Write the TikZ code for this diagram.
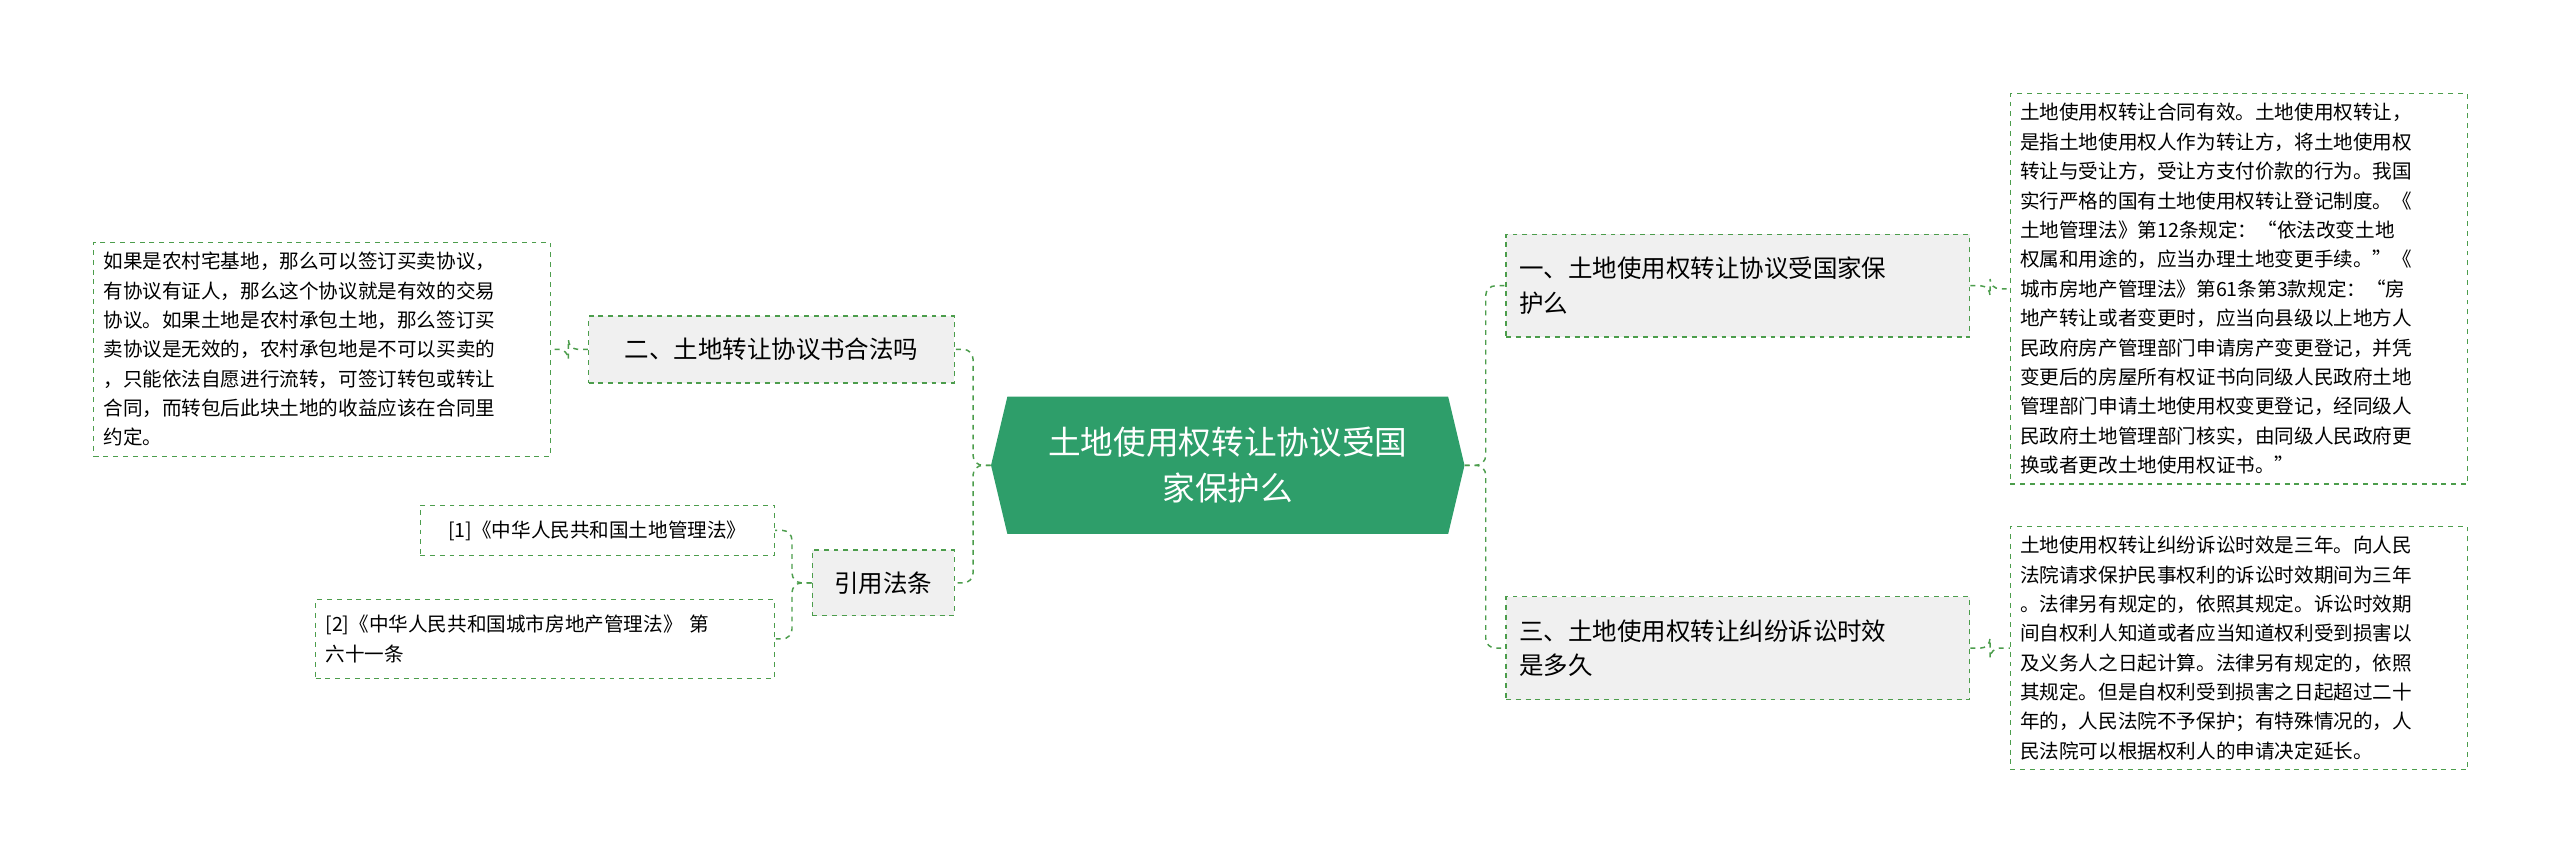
\documentclass[tikz,border=0pt]{standalone}
\usepackage{fontspec}
\setmainfont{Noto Sans CJK SC}
\begin{document}
\begin{tikzpicture}[x=1pt,y=-1pt,
  con/.style={draw=green!45!black!70, dashed, line width=0.9pt, rounded corners=6pt},
  mid/.style={draw=green!45!black!70, dashed, line width=0.9pt, fill=gray!12, font=\fontsize{15}{21}\selectfont, align=left, inner sep=8pt, anchor=west},
  leaf/.style={draw=green!45!black!70, dashed, line width=0.7pt, fill=white, font=\fontsize{12}{18}\selectfont, align=left, inner sep=6pt, anchor=north west}]
\useasboundingbox (0,0) rectangle (1568,528);
\fill[white] (0,0) rectangle (1568,528);
% center
\node[minimum width=290pt, minimum height=84pt, inner sep=0pt] (c) at (752,285) {};
\fill[green!50!black!70!teal!90, fill={rgb,255:red,46;green,158;blue,106}] (607,285) -- (617,243) -- (887,243) -- (897,285) -- (887,327) -- (617,327) -- cycle;
\node[text=white, font=\fontsize{20}{28}\selectfont, align=center] at (c) {土地使用权转让协议受国\\家保护么};
% mid nodes
\node[mid, minimum width=284pt, minimum height=63pt, text width=268pt] (r1) at (922,175) {一、土地使用权转让协议受国家保\\护么};
\node[mid, minimum width=284pt, minimum height=63pt, text width=268pt] (r2) at (922,397) {三、土地使用权转让纠纷诉讼时效\\是多久};
\node[mid, minimum width=224pt, minimum height=41pt, anchor=east] (l1) at (585,214) {二、土地转让协议书合法吗};
\node[mid, minimum width=87pt, minimum height=40pt, anchor=east] (l2) at (585,357) {引用法条};
% leaves
\node[leaf, text width=268pt, minimum width=280pt, minimum height=236pt] (rl1) at (1231,57) {土地使用权转让合同有效。土地使用权转让，\\是指土地使用权人作为转让方，将土地使用权\\转让与受让方，受让方支付价款的行为。我国\\实行严格的国有土地使用权转让登记制度。《\\土地管理法》第12条规定：“依法改变土地\\权属和用途的，应当办理土地变更手续。”《\\城市房地产管理法》第61条第3款规定：“房\\地产转让或者变更时，应当向县级以上地方人\\民政府房产管理部门申请房产变更登记，并凭\\变更后的房屋所有权证书向同级人民政府土地\\管理部门申请土地使用权变更登记，经同级人\\民政府土地管理部门核实，由同级人民政府更\\换或者更改土地使用权证书。”};
\node[leaf, text width=268pt, minimum width=280pt, minimum height=148pt] (rl2) at (1231,322) {土地使用权转让纠纷诉讼时效是三年。向人民\\法院请求保护民事权利的诉讼时效期间为三年\\。法律另有规定的，依照其规定。诉讼时效期\\间自权利人知道或者应当知道权利受到损害以\\及义务人之日起计算。法律另有规定的，依照\\其规定。但是自权利受到损害之日起超过二十\\年的，人民法院不予保护；有特殊情况的，人\\民法院可以根据权利人的申请决定延长。};
\node[leaf, text width=268pt, minimum width=280pt, minimum height=131pt] (ll1) at (57,148) {如果是农村宅基地，那么可以签订买卖协议，\\有协议有证人，那么这个协议就是有效的交易\\协议。如果土地是农村承包土地，那么签订买\\卖协议是无效的，农村承包地是不可以买卖的\\，只能依法自愿进行流转，可签订转包或转让\\合同，而转包后此块土地的收益应该在合同里\\约定。};
\node[leaf, minimum width=217pt, minimum height=31pt] (ll2) at (257,309) {[1]《中华人民共和国土地管理法》};
\node[leaf, text width=269pt, minimum width=281pt, minimum height=48pt] (ll3) at (193,367) {[2]《中华人民共和国城市房地产管理法》 第\\六十一条};
% connectors
\coordinate (cr) at (910,285);
\coordinate (cl) at (596,285);
\draw[con] (c.east) -- (cr) |- (r1.west);
\draw[con] (c.east) -- (cr) |- (r2.west);
\draw[con] (c.west) -- (cl) |- (l1.east);
\draw[con] (c.west) -- (cl) |- (l2.east);
\draw[con] (r1.east) -- ++(12,0) |- (rl1.west);
\draw[con] (r2.east) -- ++(12,0) |- (rl2.west);
\draw[con] (l1.west) -- ++(-12,0) |- (ll1.east);
\draw[con] (l2.west) -- ++(-12,0) |- (ll2.east);
\draw[con] (l2.west) -- ++(-12,0) |- (ll3.east);
\end{tikzpicture}
\end{document}
